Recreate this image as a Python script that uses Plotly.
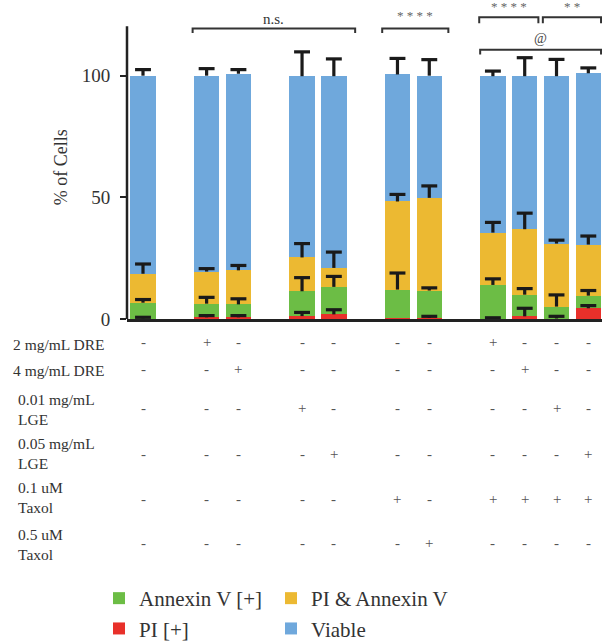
import plotly.graph_objects as go

# ---------------- data ----------------
categories = ["Control", "DRE 2", "DRE 4", "LGE 0.01", "LGE 0.05", "Taxol 0.1", "Taxol 0.5",
              "Taxol+DRE 2", "Taxol+DRE 4", "Taxol+LGE 0.01", "Taxol+LGE 0.05"]
group_sizes = [1, 2, 2, 2, 4]

pi_pos      = [0.2, 0.7, 0.7, 1.2, 1.9, 0.3, 0.4, 0.1, 1.1, 0.2, 4.4]
annexin_pos = [6.5, 5.6, 5.3, 10.2, 11.3, 11.8, 11.3, 13.9, 8.9, 4.9, 5.2]
pi_annexin  = [11.9, 13.2, 14.0, 13.9, 7.8, 36.2, 38.1, 21.5, 26.9, 25.9, 21.0]
viable      = [81.4, 80.5, 80.8, 74.5, 78.8, 52.2, 50.2, 64.3, 62.9, 68.8, 70.4]

pi_err         = [0.5, 0.7, 0.7, 1.5, 1.9, 0.0, 0.7, 0.4, 3.3, 0.9, 1.1]
annexin_err    = [1.3, 2.6, 2.3, 5.6, 4.3, 6.8, 1.1, 2.5, 2.5, 4.8, 2.1]
pi_annexin_err = [4.0, 1.2, 2.0, 5.7, 6.5, 2.9, 4.9, 4.2, 6.6, 1.4, 3.5]
viable_err     = [2.5, 2.9, 1.7, 10.0, 7.1, 6.6, 6.6, 2.1, 7.6, 6.9, 2.2]

row_labels = ["2 mg/mL DRE", "4 mg/mL DRE", "0.01 mg/mL<br>LGE", "0.05 mg/mL<br>LGE",
              "0.1 uM<br>Taxol", "0.5 uM<br>Taxol"]
dre_2     = ["-", "+", "-", "-", "-", "-", "-", "+", "-", "-", "-"]
dre_4     = ["-", "-", "+", "-", "-", "-", "-", "-", "+", "-", "-"]
lge_001   = ["-", "-", "-", "+", "-", "-", "-", "-", "-", "+", "-"]
lge_005   = ["-", "-", "-", "-", "+", "-", "-", "-", "-", "-", "+"]
taxol_01  = ["-", "-", "-", "-", "-", "+", "-", "+", "+", "+", "+"]
taxol_05  = ["-", "-", "-", "-", "-", "-", "+", "-", "-", "-", "-"]

y_ticks = [0, 50, 100]

# ---------------- layout helpers ----------------
W, H = 602, 641
ML, MR, MT, MB = 127, 0, 0, 322
PW, PH = W - ML - MR, H - MT - MB
FONT = "Liberation Serif"
TXT = "#333333"

def py(p):  # pixel from top -> paper y
    return (PH - (p - MT)) / PH

def px(p):  # pixel from left -> paper x
    return (p - ML) / PW

# bar positions from group structure (one empty slot between groups)
pos = []
cur = 0
for g in group_sizes:
    for k in range(g):
        pos.append(cur)
        cur += 1
    cur += 1

colors = {"pi": "#e8302a", "ann": "#6cbd45", "pia": "#ecb932", "via": "#6fa8dc"}

fig = go.Figure()
series = [
    ("PI [+]", pi_pos, pi_err, colors["pi"], "legend", 2),
    ("Annexin V [+]", annexin_pos, annexin_err, colors["ann"], "legend", 1),
    ("PI & Annexin V", pi_annexin, pi_annexin_err, colors["pia"], "legend2", 1),
    ("Viable", viable, viable_err, colors["via"], "legend2", 2),
]
for name, vals, err, col, leg, rank in series:
    fig.add_trace(go.Bar(x=pos, y=vals, name=name, marker=dict(color=col, line=dict(width=0)),
                         width=0.8, legend=leg, legendrank=rank, hoverinfo="skip"))

# error bars (upward only) as T shapes at the top of each stacked segment
cap = 0.25
ex, ey = [], []
base = [0.0] * len(pos)
for name, vals, err, col, leg, rank in series:
    for i in range(len(pos)):
        top = base[i] + vals[i]
        if err[i] > 0:
            ex += [pos[i], pos[i], None, pos[i] - cap, pos[i] + cap, None]
            ey += [top, top + err[i], None, top + err[i], top + err[i], None]
        base[i] = top
fig.add_trace(go.Scatter(x=ex, y=ey, mode="lines", line=dict(color="#1a1a1a", width=3.2),
                         showlegend=False, hoverinfo="skip"))

shapes = []
# y axis line (stops at 120)
shapes.append(dict(type="line", xref="paper", yref="y", x0=0, x1=0, y0=0, y1=120.3,
                   line=dict(color="#222222", width=2.5)))

annotations = []
# significance brackets: (x0, x1, y line, y tick end, label, y label, size, color)
brackets = [
    (pos[1] - 0.44, pos[4] + 0.67, 119.4, 117.5, "n.s.", 123.3, 15, TXT),
    (pos[5] - 0.48, pos[6] + 0.6, 119.4, 117.5, "* * * *", 124.9, 13, "#666666"),
    (pos[7] - 0.43, pos[8] + 0.43, 124.0, 121.6, "* * * *", 128.4, 13, "#666666"),
    (pos[9] - 0.43, pos[10] + 0.4, 124.0, 121.6, "* *", 128.4, 13, "#666666"),
    (pos[7] - 0.4, pos[10] + 0.4, 110.7, 108.7, "@", 115.2, 14, "#444444"),
]
for x0, x1, yl, yt, lab, ylab, sz, col in brackets:
    shapes.append(dict(type="path", xref="x", yref="y",
                       path=f"M {x0},{yt} L {x0},{yl} L {x1},{yl} L {x1},{yt}",
                       line=dict(color="#333333", width=2)))
    annotations.append(dict(x=(x0 + x1) / 2, y=ylab, xref="x", yref="y", text=lab,
                            showarrow=False, font=dict(family=FONT, size=sz, color=col),
                            xanchor="center", yanchor="middle"))

# y axis title
annotations.append(dict(x=px(60.7), y=py(167.5), xref="paper", yref="paper", text="% of Cells",
                        textangle=-90, showarrow=False, font=dict(family=FONT, size=18, color=TXT),
                        xanchor="center", yanchor="middle"))

# treatment table
rows = [dre_2, dre_4, lge_001, lge_005, taxol_01, taxol_05]
label_y = [344, 370.7, 409.5, 453.3, 497.8, 544.3]
label_x = [11, 11, 16, 16, 16, 16]
mark_y = [342, 369, 408, 454, 499, 543]
for r, row in enumerate(rows):
    annotations.append(dict(x=px(label_x[r]), y=py(label_y[r]), xref="paper", yref="paper",
                            text=row_labels[r], showarrow=False, align="left",
                            font=dict(family=FONT, size=15.5, color=TXT),
                            xanchor="left", yanchor="middle"))
    for i, m in enumerate(row):
        annotations.append(dict(x=pos[i], y=py(mark_y[r]), xref="x", yref="paper", text=m,
                                showarrow=False, font=dict(family=FONT, size=15, color="#555555"),
                                xanchor="center", yanchor="middle"))

fig.update_layout(
    width=W, height=H,
    margin=dict(l=ML, r=MR, t=MT, b=MB, pad=0, autoexpand=False),
    paper_bgcolor="white", plot_bgcolor="white",
    barmode="stack", bargap=0,
    font=dict(family=FONT, color=TXT),
    xaxis=dict(range=[-0.503, 14.43], showgrid=False, zeroline=False, showticklabels=False,
               ticks="", showline=True, linecolor="#222222", linewidth=2.5, fixedrange=True,
               automargin=False),
    yaxis=dict(range=[0, PH / 2.433], showgrid=False, zeroline=False, showline=False,
               tickvals=y_ticks, ticks="outside", ticklen=6, tickwidth=2, tickcolor="#222222",
               tickfont=dict(family=FONT, size=19, color=TXT), ticklabelstandoff=6,
               automargin=False, fixedrange=True),
    legend=dict(xref="container", yref="container", x=99 / W, y=1 - 578 / H,
                xanchor="left", yanchor="top", font=dict(family=FONT, size=21, color=TXT),
                bgcolor="rgba(0,0,0,0)", tracegroupgap=0, itemclick=False, traceorder="normal"),
    legend2=dict(xref="container", yref="container", x=271 / W, y=1 - 578 / H,
                 xanchor="left", yanchor="top", font=dict(family=FONT, size=21, color=TXT),
                 bgcolor="rgba(0,0,0,0)", tracegroupgap=0, itemclick=False, traceorder="normal"),
    shapes=shapes, annotations=annotations,
)

fig.write_html("out.html", config={"displayModeBar": False},
               post_script="document.body.style.margin='0px';")
